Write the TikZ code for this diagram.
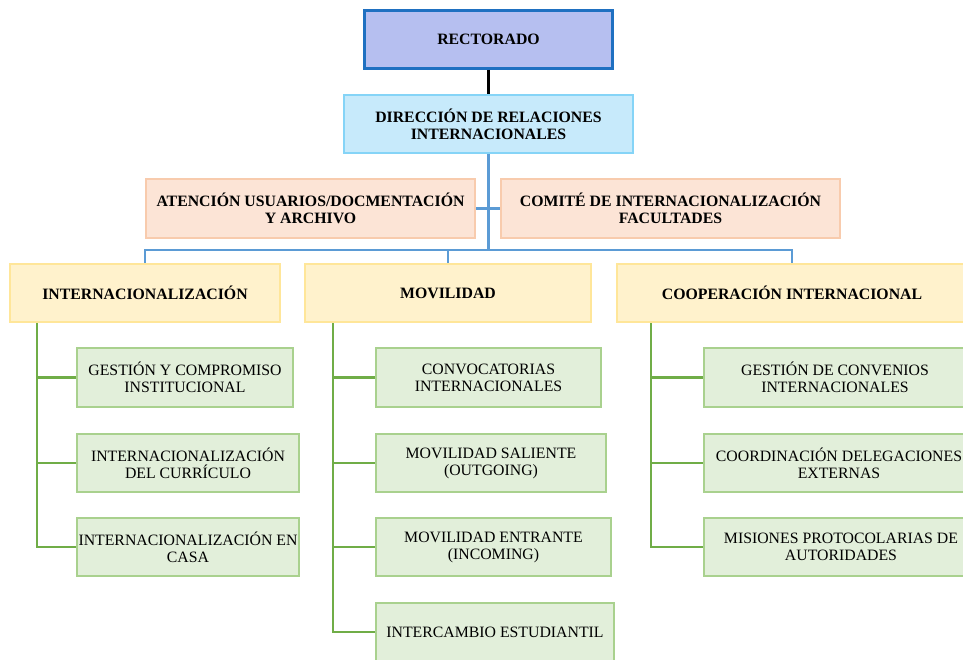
\documentclass[tikz,border=0pt]{standalone}
\usepackage{fontspec}
\setmainfont{Liberation Serif}

\definecolor{rectFill}{HTML}{B6BFF0}
\definecolor{rectLine}{HTML}{1F70C1}
\definecolor{dirFill}{HTML}{C7EAFB}
\definecolor{dirLine}{HTML}{85D4F7}
\definecolor{peachFill}{HTML}{FCE4D6}
\definecolor{peachLine}{HTML}{F8CBAD}
\definecolor{yellowFill}{HTML}{FFF2CC}
\definecolor{yellowLine}{HTML}{FFE699}
\definecolor{greenFill}{HTML}{E2EFDA}
\definecolor{greenLine}{HTML}{A9D18E}
\definecolor{busBlue}{HTML}{5B9BD5}
\definecolor{busGreen}{HTML}{70AD47}

\begin{document}
\begin{tikzpicture}[x=1pt,y=-1pt,
  box/.style={draw, rectangle, line width=2.2pt, align=center, inner sep=1pt,
    font=\fontsize{15.8}{17}\selectfont},
  boldbox/.style={box, font=\fontsize{15.8}{17}\selectfont\bfseries},
  topbox/.style={boldbox, fill=rectFill, draw=rectLine, line width=2.6pt},
  dirbox/.style={boldbox, fill=dirFill, draw=dirLine},
  peachbox/.style={boldbox, fill=peachFill, draw=peachLine},
  headbox/.style={boldbox, fill=yellowFill, draw=yellowLine},
  leafbox/.style={box, fill=greenFill, draw=greenLine},
  blink/.style={draw=busBlue, line width=2.5pt},
  glink/.style={draw=busGreen, line width=2.5pt},
  klink/.style={draw=black, line width=3pt}]

\useasboundingbox (0,0) rectangle (963,660);
\clip (0,0) rectangle (963,660);

% upper levels
\node[topbox, minimum width=248, minimum height=58] (rect) at (488.5,39.5) {RECTORADO};
\node[dirbox, minimum width=289, minimum height=58] (dir) at (488.5,124) {DIRECCIÓN DE RELACIONES\\INTERNACIONALES};
\node[peachbox, minimum width=329, minimum height=59] (aten) at (310.5,208.5) {ATENCIÓN USUARIOS/DOCMENTACIÓN\\Y ARCHIVO};
\node[peachbox, minimum width=339, minimum height=59] (comite) at (670.5,208.5) {COMITÉ DE INTERNACIONALIZACIÓN\\FACULTADES};

% area headers
\node[headbox, minimum width=270, minimum height=58] (h1) at (145,293) {INTERNACIONALIZACIÓN};
\node[headbox, minimum width=286, minimum height=58] (h2) at (448,293) {MOVILIDAD};
\node[headbox, minimum width=350, minimum height=58] (h3) at (792,293) {COOPERACIÓN INTERNACIONAL};

% internacionalización
\node[leafbox, minimum width=216, minimum height=59] (g11) at (185,377.5) {GESTIÓN Y COMPROMISO\\INSTITUCIONAL};
\node[leafbox, minimum width=222, minimum height=58] (g12) at (188,463) {INTERNACIONALIZACIÓN\\DEL CURRÍCULO};
\node[leafbox, minimum width=222, minimum height=58] (g13) at (188,547) {INTERNACIONALIZACIÓN EN\\CASA};

% movilidad
\node[leafbox, minimum width=225, minimum height=59] (g21) at (488.5,377.5) {CONVOCATORIAS\\INTERNACIONALES};
\node[leafbox, minimum width=230, minimum height=58] (g22) at (491,463) {MOVILIDAD SALIENTE\\(OUTGOING)};
\node[leafbox, minimum width=235, minimum height=58] (g23) at (493.5,547) {MOVILIDAD ENTRANTE\\(INCOMING)};
\node[leafbox, minimum width=238, minimum height=58] (g24) at (495,632) {INTERCAMBIO ESTUDIANTIL};

% cooperación internacional
\node[leafbox, minimum width=262, minimum height=59] (g31) at (835,377.5) {GESTIÓN DE CONVENIOS\\INTERNACIONALES};
\node[leafbox, minimum width=270, minimum height=58] (g32) at (839,463) {COORDINACIÓN DELEGACIONES\\EXTERNAS};
\node[leafbox, minimum width=274, minimum height=58] (g33) at (841,547) {MISIONES PROTOCOLARIAS DE\\AUTORIDADES};

% connectors
\draw[klink] (rect.south) -- (dir.north);
\coordinate (bus) at (488.5,250);
\draw[blink] (dir.south) -- (bus);
\draw[blink] (aten.east) -- (comite.west);
\draw[blink] (bus) -| (h1.north);
\draw[blink] (bus) -| (h2.north);
\draw[blink] (bus) -| (h3.north);

\foreach \leaf in {g11,g12,g13}
  \draw[glink] ([xshift=28pt]h1.south west) |- (\leaf.west);
\foreach \leaf in {g21,g22,g23,g24}
  \draw[glink] ([xshift=29pt]h2.south west) |- (\leaf.west);
\foreach \leaf in {g31,g32,g33}
  \draw[glink] ([xshift=35pt]h3.south west) |- (\leaf.west);
\end{tikzpicture}
\end{document}
